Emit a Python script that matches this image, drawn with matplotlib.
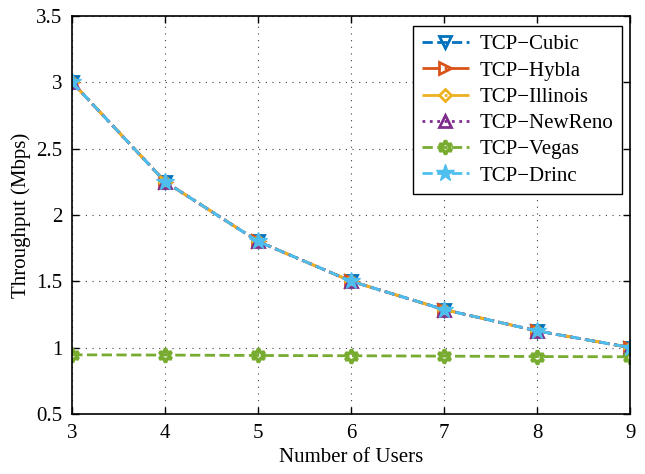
import numpy as np
import matplotlib.pyplot as plt

plt.rcParams['font.family'] = ['Liberation Serif', 'DejaVu Serif']

users = [3, 4, 5, 6, 7, 8, 9]
cubic = [3.0, 2.25, 1.80, 1.50, 1.286, 1.125, 1.00]
hybla = [3.0, 2.25, 1.80, 1.50, 1.286, 1.125, 1.00]
illinois = [3.0, 2.25, 1.80, 1.50, 1.286, 1.125, 1.00]
newreno = [3.0, 2.25, 1.80, 1.50, 1.286, 1.125, 1.00]
vegas = [0.945, 0.943, 0.940, 0.938, 0.935, 0.932, 0.930]
drinc = [3.0, 2.25, 1.80, 1.50, 1.286, 1.125, 1.00]

names = ['TCP\u2212Cubic', 'TCP\u2212Hybla', 'TCP\u2212Illinois',
         'TCP\u2212NewReno', 'TCP\u2212Vegas', 'TCP\u2212Drinc']
y_ticks = [0.5, 1, 1.5, 2, 2.5, 3, 3.5]
y_labels = ['0.5', '1', '1.5', '2', '2.5', '3', '3.5']

fig = plt.figure(figsize=(6.45, 4.74), dpi=100)
ax = fig.add_axes([0.112, 0.127, 0.865, 0.839])

lw = 2.0
ax.plot(users, cubic, '--', color='#0072BD', lw=lw, marker='v', ms=9,
        mfc='none', mew=2, label=names[0])
ax.plot(users, hybla, '-.', color='#D95319', lw=lw, marker='>', ms=9,
        mfc='none', mew=2, label=names[1])
ax.plot(users, illinois, '-.', color='#EDB120', lw=lw, marker='D', ms=6,
        mfc='none', mew=2, label=names[2])
ax.plot(users, newreno, ':', color='#7E2F8E', lw=lw, marker='^', ms=9,
        mfc='none', mew=2, label=names[3])
ax.plot(users, vegas, '--', color='#77AC30', lw=lw, marker=(6, 1, 0), ms=10,
        mfc='none', mew=2.5, label=names[4])
ax.plot(users, drinc, '--', color='#4DBEEE', lw=lw, marker='*', ms=13,
        mfc='#4DBEEE', mew=1, label=names[5])

ax.set_xlim(3, 9)
ax.set_ylim(0.5, 3.5)
ax.set_xticks(users)
ax.set_yticks(y_ticks, y_labels)
ax.tick_params(direction='in', top=True, right=True, labelsize=15, length=5,
               width=1, pad=7)
ax.grid(True, linestyle=(0, (1, 5)), color='#404040', linewidth=0.8)
for s in ax.spines.values():
    s.set_linewidth(1.2)

ax.set_xlabel('Number of Users', fontsize=15, labelpad=4)
ax.set_ylabel('Throughput (Mbps)', fontsize=15, labelpad=4)

leg = ax.legend(loc='upper right', fontsize=15, fancybox=False,
                edgecolor='black', framealpha=1, handlelength=2.3,
                borderpad=0.42, labelspacing=0.32, handletextpad=0.5,
                bbox_to_anchor=(0.986, 0.975), borderaxespad=0)
leg.get_frame().set_linewidth(1.0)

fig.savefig('out.png', dpi=100)
